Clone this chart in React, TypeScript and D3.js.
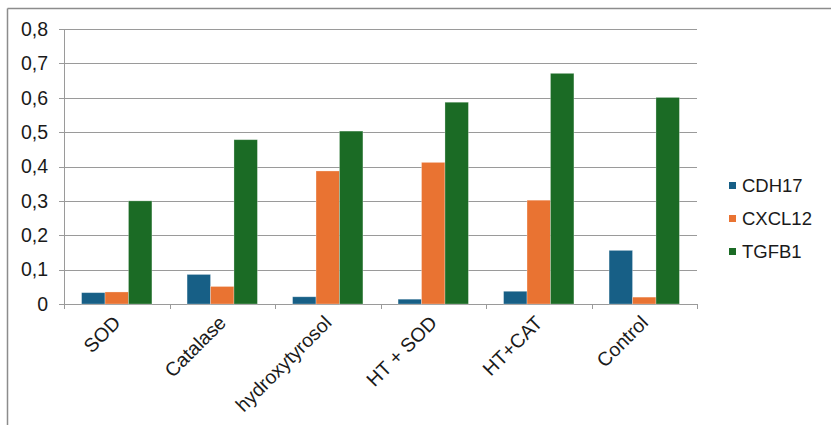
import React from "react";
import * as d3 from "d3";

const categories = ["SOD", "Catalase", "hydroxytyrosol", "HT + SOD", "HT+CAT", "Control"];
const seriesNames = ["CDH17", "CXCL12", "TGFB1"];
const cdh17 = [0.033, 0.086, 0.021, 0.014, 0.037, 0.156];
const cxcl12 = [0.035, 0.051, 0.387, 0.412, 0.302, 0.02];
const tgfb1 = [0.3, 0.478, 0.503, 0.587, 0.671, 0.601];
const yTicks = [0, 0.1, 0.2, 0.3, 0.4, 0.5, 0.6, 0.7, 0.8];
const colors = ["#175F86", "#E97332", "#1B6B25"];

const W = 831;
const H = 425;
const plot = { left: 64, right: 697, top: 29, bottom: 304 };
const font = "'Liberation Sans', Arial, sans-serif";

export default function App() {
  const series = [cdh17, cxcl12, tgfb1];
  const x = d3.scaleBand<string>().domain(categories).range([plot.left, plot.right]);
  // Excel-like gap width of 150%: bars fill 3/4.5 of each category
  const groupPad = (x.bandwidth() * 1.5) / 4.5 / 2;
  const inner = d3
    .scaleBand<string>()
    .domain(seriesNames)
    .range([groupPad, x.bandwidth() - groupPad]);
  const y = d3.scaleLinear().domain([0, 0.8]).range([plot.bottom, plot.top]);
  const fmt = (v: number) => (v === 0 ? "0" : d3.format(".1f")(v).replace(".", ","));
  const tickXs = [...categories.map((c) => x(c)!), plot.right];

  return (
    <svg
      width={W}
      height={H}
      style={{ position: "absolute", left: 0, top: 0, background: "#fff" }}
      fontFamily={font}
    >
      {/* outer frame */}
      <line x1={7.5} x2={W} y1={8.5} y2={8.5} stroke="#8c8c8c" strokeWidth={1.5} />
      <line x1={7.5} x2={7.5} y1={8.5} y2={H} stroke="#8c8c8c" strokeWidth={1.5} />

      {/* gridlines + y labels */}
      {yTicks.map((t) => (
        <g key={t}>
          <line
            x1={plot.left - 5}
            x2={plot.right}
            y1={Math.round(y(t)) + 0.5}
            y2={Math.round(y(t)) + 0.5}
            stroke="#9a9a9a"
            strokeWidth={1}
          />
          <text
            x={48}
            y={y(t)}
            dy="0.35em"
            textAnchor="end"
            fontSize={19.5}
            fill="#1a1a1a"
          >
            {fmt(t)}
          </text>
        </g>
      ))}

      {/* y axis */}
      <line x1={plot.left + 0.5} x2={plot.left + 0.5} y1={plot.top} y2={plot.bottom} stroke="#9a9a9a" />
      {/* x ticks */}
      {tickXs.map((tx, i) => (
        <line
          key={i}
          x1={Math.round(tx) + 0.5}
          x2={Math.round(tx) + 0.5}
          y1={plot.bottom}
          y2={plot.bottom + 5}
          stroke="#9a9a9a"
        />
      ))}

      {/* bars */}
      {categories.map((c, ci) => (
        <g key={c} transform={`translate(${x(c)},0)`}>
          {series.map((s, si) => (
            <rect
              key={si}
              x={inner(seriesNames[si])}
              y={y(s[ci])}
              width={inner.bandwidth()}
              height={y(0) - y(s[ci])}
              fill={colors[si]}
              stroke="#ffffff"
              strokeOpacity={0.35}
              strokeWidth={0.8}
            />
          ))}
        </g>
      ))}

      {/* x labels */}
      {categories.map((c) => {
        const cx = x(c)! + x.bandwidth() / 2 + 5;
        return (
          <text
            key={c}
            transform={`translate(${cx},${plot.bottom + 20}) rotate(-45)`}
            textAnchor="end"
            fontSize={19.5}
            fill="#1a1a1a"
          >
            {c}
          </text>
        );
      })}

      {/* legend */}
      {seriesNames.map((n, i) => {
        const ly = 186 + i * 33;
        return (
          <g key={n}>
            <rect x={729} y={ly - 4} width={7} height={7} fill={colors[i]} />
            <text x={742} y={ly} dy="0.35em" fontSize={18.5} fill="#1a1a1a">
              {n}
            </text>
          </g>
        );
      })}
    </svg>
  );
}
